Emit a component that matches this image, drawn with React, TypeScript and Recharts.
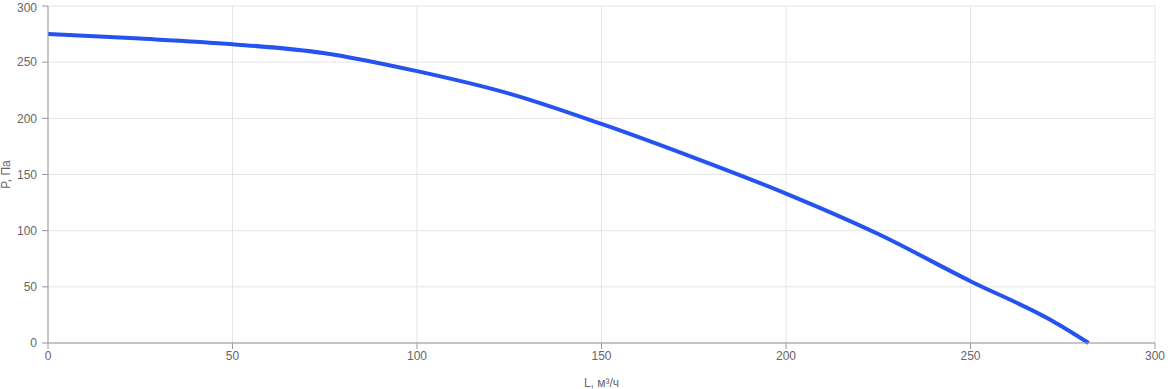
import React from 'react';
import { LineChart, Line, XAxis, YAxis, CartesianGrid } from 'recharts';

const flowValues: number[] = [0, 25, 50, 75, 100, 125, 150, 175, 200, 225, 250, 272, 282];
const pressureValues: number[] = [275, 271, 266, 258, 242, 222, 195, 165, 133, 97, 55, 20, 0];
const xTicks: number[] = [0, 50, 100, 150, 200, 250, 300];
const yTicks: number[] = [0, 50, 100, 150, 200, 250, 300];

const data = flowValues.map((l, i) => ({ l, p: pressureValues[i] }));

const tickStyle = { fill: '#666', fontSize: 12, fontFamily: 'Arial, "Liberation Sans", sans-serif' };

export default function App() {
    return (
        <div style={{ position: 'absolute', left: 0, top: 0, width: 1168, height: 389, background: '#fff' }}>
            <LineChart width={1168} height={389} data={data} margin={{ top: 6, right: 13, left: 0, bottom: 0 }}>
                <CartesianGrid stroke="#e5e5e5" />
                <XAxis
                    dataKey="l"
                    type="number"
                    domain={[0, 300]}
                    ticks={xTicks}
                    height={46}
                    stroke="#999"
                    tick={tickStyle}
                    label={{ value: 'L, м³/ч', position: 'insideBottom', offset: 2, style: { ...tickStyle } }}
                />
                <YAxis
                    type="number"
                    domain={[0, 300]}
                    ticks={yTicks}
                    width={48}
                    tickMargin={5}
                    stroke="#999"
                    tick={tickStyle}
                    label={{ value: 'P, Па', angle: -90, position: 'insideLeft', offset: 6, style: { ...tickStyle, textAnchor: 'middle' } }}
                />
                <Line
                    type="monotone"
                    dataKey="p"
                    stroke="#2453f0"
                    strokeWidth={4}
                    dot={false}
                    isAnimationActive={false}
                />
            </LineChart>
        </div>
    );
}
